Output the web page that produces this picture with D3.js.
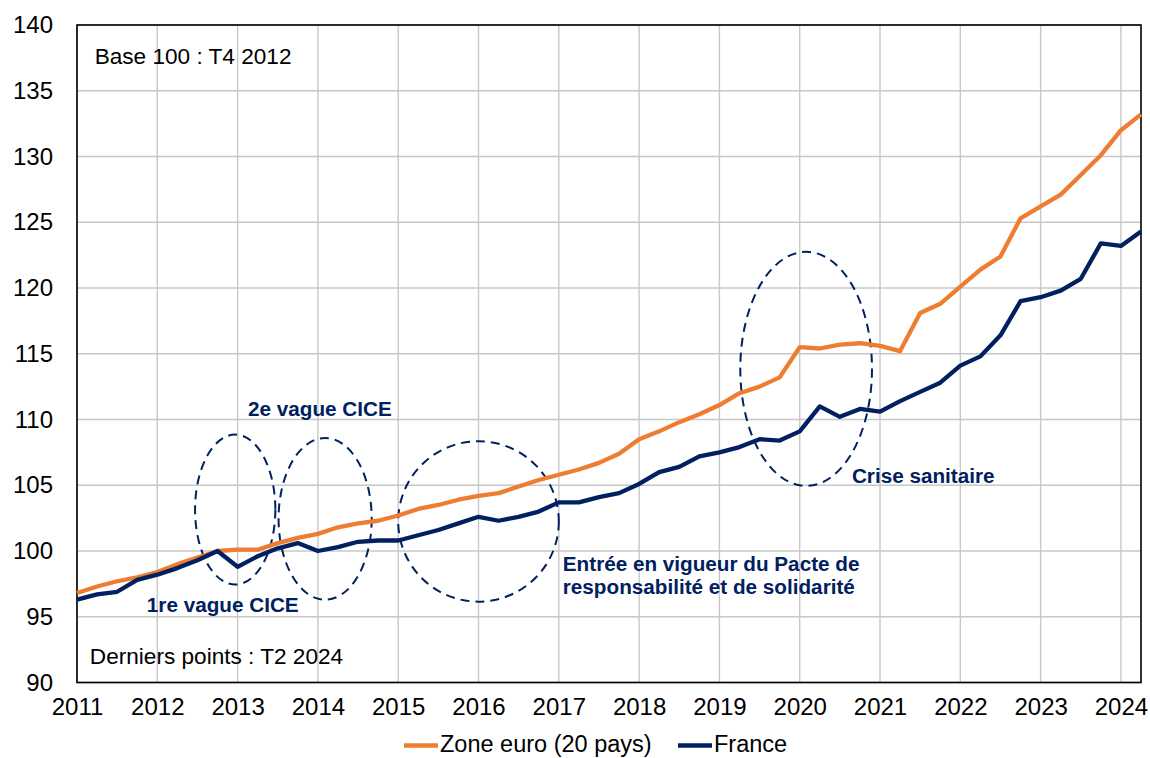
<!DOCTYPE html>
<html>
<head>
<meta charset="utf-8">
<script src="https://cdn.jsdelivr.net/npm/d3@7"></script>
<style>
  body { margin: 0; background: #fff; }
  svg { display: block; font-family: "Liberation Sans", Arial, sans-serif; }
</style>
</head>
<body>
<div class="chart"></div>
<script>
// quarters from T1 2011 to T2 2024
var quarters = [
  "T1 2011","T2 2011","T3 2011","T4 2011","T1 2012","T2 2012","T3 2012","T4 2012",
  "T1 2013","T2 2013","T3 2013","T4 2013","T1 2014","T2 2014","T3 2014","T4 2014",
  "T1 2015","T2 2015","T3 2015","T4 2015","T1 2016","T2 2016","T3 2016","T4 2016",
  "T1 2017","T2 2017","T3 2017","T4 2017","T1 2018","T2 2018","T3 2018","T4 2018",
  "T1 2019","T2 2019","T3 2019","T4 2019","T1 2020","T2 2020","T3 2020","T4 2020",
  "T1 2021","T2 2021","T3 2021","T4 2021","T1 2022","T2 2022","T3 2022","T4 2022",
  "T1 2023","T2 2023","T3 2023","T4 2023","T1 2024","T2 2024"];

// Zone euro (20 pays)
var euroValues = [
  96.8, 97.3, 97.7, 98.0, 98.4, 99.0, 99.5, 100.0,
  100.1, 100.1, 100.6, 101.0, 101.3, 101.8, 102.1, 102.3,
  102.7, 103.2, 103.5, 103.9, 104.2, 104.4, 104.9, 105.4,
  105.8, 106.2, 106.7, 107.4, 108.5, 109.1, 109.8, 110.4,
  111.1, 112.0, 112.5, 113.2, 115.5, 115.4, 115.7, 115.8,
  115.6, 115.2, 118.1, 118.8, 120.1, 121.4, 122.4, 125.3,
  126.2, 127.1, 128.6, 130.1, 132.0, 133.2];

// France
var franceValues = [
  96.3, 96.7, 96.9, 97.8, 98.2, 98.7, 99.3, 100.0,
  98.8, 99.6, 100.2, 100.6, 100.0, 100.3, 100.7, 100.8,
  100.8, 101.2, 101.6, 102.1, 102.6, 102.3, 102.6, 103.0,
  103.7, 103.7, 104.1, 104.4, 105.1, 106.0, 106.4, 107.2,
  107.5, 107.9, 108.5, 108.4, 109.1, 111.0, 110.2, 110.8,
  110.6, 111.4, 112.1, 112.8, 114.1, 114.8, 116.4, 119.0,
  119.3, 119.8, 120.7, 123.4, 123.2, 124.3];

var yearLabels = ["2011","2012","2013","2014","2015","2016","2017",
  "2018","2019","2020","2021","2022","2023","2024"];
var yTicks = [90, 95, 100, 105, 110, 115, 120, 125, 130, 135, 140];

var seriesNames = ["Zone euro (20 pays)", "France"];

// dashed ellipses (centre in years / index points, radii in the same units)
var ellipses = [
  { "cx": 2012.97, "cy": 103.15, "rx": 0.50, "ry": 5.70 },
  { "cx": 2014.09, "cy": 102.45, "rx": 0.58, "ry": 6.15 },
  { "cx": 2016.00, "cy": 102.25, "rx": 1.00, "ry": 6.10 },
  { "cx": 2020.08, "cy": 113.85, "rx": 0.82, "ry": 8.90 }];

var notes = [
  { "year": 2013.13, "value": 110.25, "lines": ["2e vague CICE"] },
  { "year": 2011.87, "value": 95.35, "lines": ["1re vague CICE"] },
  { "year": 2017.05, "value": 98.45, "lines": ["Entrée en vigueur du Pacte de", "responsabilité et de solidarité"] },
  { "year": 2020.65, "value": 105.2, "lines": ["Crise sanitaire"] }];

var LabourCostChart = function(){

  return {

    init: function() {

      var W = 1150, H = 758;
      var margin = { top: 25, right: 9, bottom: 75.5, left: 77 };
      var width = W - margin.left - margin.right;
      var height = H - margin.top - margin.bottom;

      var navy = "#002060", orange = "#EE7D31";

      var svg = d3.select(".chart").append("svg")
        .attr("width", W)
        .attr("height", H);

      var g = svg.append("g")
        .attr("transform", "translate(" + margin.left + "," + margin.top + ")");

      // x on quarter index, y on index value
      var x = d3.scaleLinear().domain([0, quarters.length - 1]).range([0, width]);
      var y = d3.scaleLinear().domain([90, 140]).range([height, 0]);
      var xYear = function(yr) { return x((yr - 2011) * 4); };

      // grid
      g.append("g").selectAll("line")
        .data(yTicks)
        .enter().append("line")
        .attr("x1", 0).attr("x2", width)
        .attr("y1", function(d) { return y(d); })
        .attr("y2", function(d) { return y(d); })
        .style("stroke", "#c8c8c8").style("stroke-width", 1.4);

      g.append("g").selectAll("line")
        .data(yearLabels)
        .enter().append("line")
        .attr("x1", function(d, i) { return x(i * 4); })
        .attr("x2", function(d, i) { return x(i * 4); })
        .attr("y1", 0).attr("y2", height)
        .style("stroke", "#c8c8c8").style("stroke-width", 1.4);

      // axes (labels only, frame drawn below)
      var yAxis = g.append("g")
        .call(d3.axisLeft(y).tickValues(yTicks).tickSize(0).tickPadding(24));
      var xAxis = g.append("g")
        .attr("transform", "translate(0," + height + ")")
        .call(d3.axisBottom(x)
          .tickValues(yearLabels.map(function(d, i) { return i * 4; }))
          .tickFormat(function(d) { return yearLabels[d / 4]; })
          .tickSize(0).tickPadding(15));
      [yAxis, xAxis].forEach(function(a) {
        a.select(".domain").remove();
        a.selectAll("text")
          .style("font-family", "Liberation Sans, Arial, sans-serif")
          .style("font-size", "24px")
          .style("fill", "#000");
      });

      // plot frame
      g.append("rect")
        .attr("width", width).attr("height", height)
        .style("fill", "none").style("stroke", "#000").style("stroke-width", 1.6);

      // dashed ellipses
      g.append("g").selectAll("ellipse")
        .data(ellipses)
        .enter().append("ellipse")
        .attr("cx", function(d) { return xYear(d.cx); })
        .attr("cy", function(d) { return y(d.cy); })
        .attr("rx", function(d) { return xYear(d.cx + d.rx) - xYear(d.cx); })
        .attr("ry", function(d) { return y(d.cy - d.ry) - y(d.cy); })
        .style("fill", "none").style("stroke", navy)
        .style("stroke-width", 2).style("stroke-dasharray", "9,6");

      // series lines
      var line = d3.line()
        .x(function(d, i) { return x(i); })
        .y(function(d) { return y(d); });

      var series = [
        { "values": euroValues, "color": orange },
        { "values": franceValues, "color": navy }];

      g.append("g").selectAll("path")
        .data(series)
        .enter().append("path")
        .attr("d", function(d) { return line(d.values); })
        .style("fill", "none")
        .style("stroke", function(d) { return d.color; })
        .style("stroke-width", 4.3)
        .style("stroke-linejoin", "round");

      // annotation texts
      var noteText = g.append("g").selectAll("text")
        .data(notes)
        .enter().append("text")
        .attr("x", function(d) { return xYear(d.year); })
        .attr("y", function(d) { return y(d.value); })
        .style("font-size", "20.7px").style("font-weight", "bold")
        .style("fill", navy);
      noteText.selectAll("tspan")
        .data(function(d) { return d.lines.map(function(l) { return { "t": l, "x": xYear(d.year) }; }); })
        .enter().append("tspan")
        .attr("x", function(d) { return d.x; })
        .attr("dy", function(d, i) { return i === 0 ? 0 : 22.5; })
        .text(function(d) { return d.t; });

      // plain notes
      g.append("text")
        .attr("x", xYear(2011.22)).attr("y", y(137.07))
        .style("font-size", "22.6px").style("fill", "#000")
        .text("Base 100 : T4 2012");
      g.append("text")
        .attr("x", xYear(2011.16)).attr("y", y(91.37))
        .style("font-size", "22.6px").style("fill", "#000")
        .text("Derniers points : T2 2024");

      // legend
      var legend = svg.append("g").attr("transform", "translate(0,745.5)");
      var legendX = [404, 678];
      seriesNames.forEach(function(name, i) {
        legend.append("line")
          .attr("x1", legendX[i]).attr("x2", legendX[i] + 34)
          .attr("y1", 0).attr("y2", 0)
          .style("stroke", series[i].color).style("stroke-width", 4.3);
        legend.append("text")
          .attr("x", legendX[i] + 36).attr("y", 6.5)
          .style("font-size", "23.5px").style("fill", "#000")
          .text(name);
      });
    }

  };

}();

LabourCostChart.init();
</script>
</body>
</html>
